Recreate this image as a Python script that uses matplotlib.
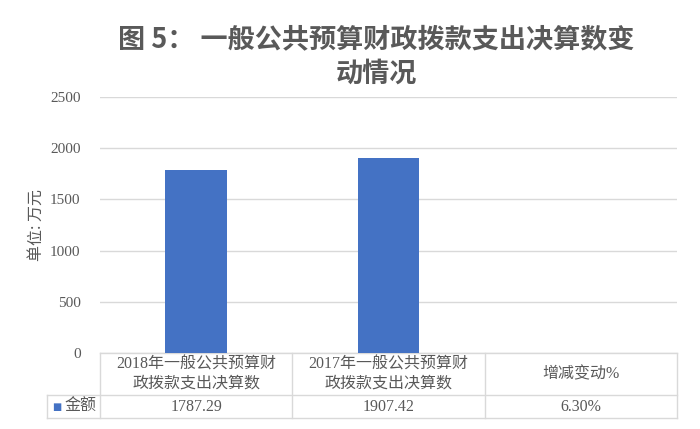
import matplotlib.pyplot as plt

# === 数据 ===
categories = ["2018年一般公共预算财\n政拨款支出决算数", "2017年一般公共预算财\n政拨款支出决算数", "增减变动%"]
values = [1787.29, 1907.42, 0.063]
value_labels = ["1787.29", "1907.42", "6.30%"]
series_name = "金额"
yticks = [0, 500, 1000, 1500, 2000, 2500]

mixed = ["Liberation Serif", "Noto Sans CJK SC"]
grey = "#595959"
line_c = "#d9d9d9"
bar_c = "#4472C4"

fig = plt.figure(figsize=(7, 4.29), dpi=100)
ax = fig.add_axes([0.143, 0.177, 0.824, 0.597])

x = list(range(len(categories)))
ax.bar(x, values, width=0.32, color=bar_c, zorder=3)
ax.set_xlim(-0.5, 2.5)
ax.set_ylim(0, 2500)
ax.set_yticks(yticks)
ax.set_yticklabels([str(t) for t in yticks], family=mixed, fontsize=11, color=grey)
ax.tick_params(axis="y", length=0, pad=14)
ax.tick_params(axis="x", bottom=False, labelbottom=False)
ax.grid(axis="y", color=line_c, linewidth=1, zorder=0)
for s in ax.spines.values():
    s.set_visible(False)

ax.set_ylabel("单位: 万元", family=["Noto Sans CJK SC"], fontsize=11.5, color=grey, labelpad=4)

fig.suptitle("图 5： 一般公共预算财政拨款支出决算数变\n动情况", family=["Noto Sans CJK SC"],
             fontweight="bold", fontsize=19.5, color=grey, x=0.537, y=0.94, linespacing=1.25)

# === 数据表 ===
tr = ax.transAxes
lab_x0 = -0.092
h1, h2 = -0.164, -0.254
ncol = len(categories)
kw = dict(transform=tr, clip_on=False, color=line_c, linewidth=1)
# 横线
ax.plot([0, 1], [0, 0], **kw)
ax.plot([lab_x0, 1], [h1, h1], **kw)
ax.plot([lab_x0, 1], [h2, h2], **kw)
# 竖线
ax.plot([lab_x0, lab_x0], [h1, h2], **kw)
for i in range(ncol + 1):
    ax.plot([i / ncol, i / ncol], [0, h2], **kw)

for i, (c, v) in enumerate(zip(categories, value_labels)):
    cx = (i + 0.5) / ncol
    ax.text(cx, h1 / 2, c, transform=tr, ha="center", va="center", family=mixed,
            fontsize=11.5, color=grey, linespacing=1.25)
    ax.text(cx, (h1 + h2) / 2, v, transform=tr, ha="center", va="center", family=mixed,
            fontsize=11.5, color=grey)

ax.text(lab_x0 + 0.009, (h1 + h2) / 2, "■", transform=tr, ha="left", va="center",
        family=["DejaVu Sans"], fontsize=7, color=bar_c)
ax.text(lab_x0 + 0.03, (h1 + h2) / 2, series_name, transform=tr, ha="left", va="center",
        family=["Noto Sans CJK SC"], fontsize=11.5, color=grey)

fig.savefig("out.png", dpi=100)
